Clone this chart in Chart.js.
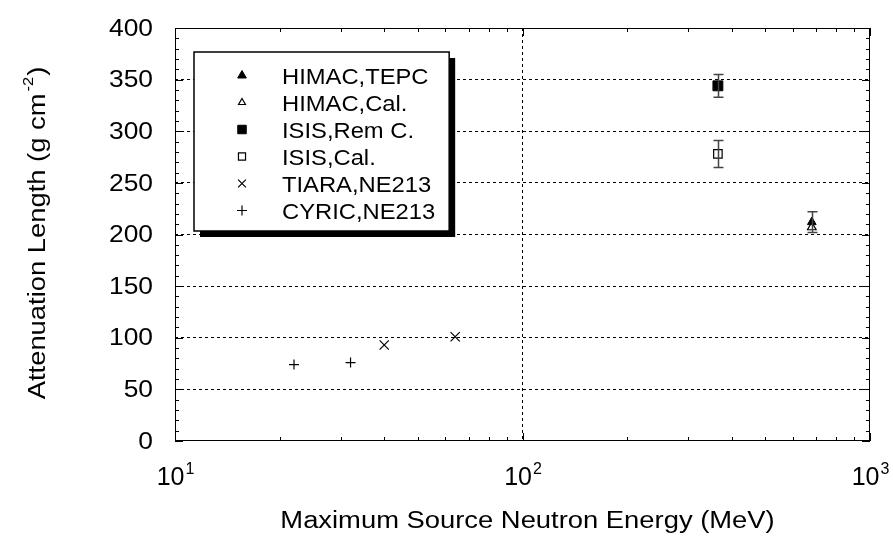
<!DOCTYPE html>
<html>
<head>
<meta charset="utf-8">
<script src="https://cdn.jsdelivr.net/npm/chart.js@4.4.1/dist/chart.umd.min.js"></script>
<style>
  html, body { margin: 0; padding: 0; background: #fff; }
  #wrap { width: 893px; height: 538px; }
</style>
</head>
<body>
<div id="wrap"><canvas id="c" width="893" height="538"></canvas></div>
<script>
// --- DATA ---
const seriesLabels = ['HIMAC,TEPC', 'HIMAC,Cal.', 'ISIS,Rem C.', 'ISIS,Cal.', 'TIARA,NE213', 'CYRIC,NE213'];

const himacTepcE = [680];
const himacTepcL = [212];
const himacTepcErr = [10];

const himacCalE = [680];
const himacCalL = [207];

const isisRemE = [365];
const isisRemL = [344];
const isisRemErr = [11];

const isisCalE = [365];
const isisCalL = [278];
const isisCalErr = [13];

const tiaraE = [40, 64];
const tiaraL = [93, 101];

const cyricE = [22, 32];
const cyricL = [74, 76];

const yTicks = [0, 50, 100, 150, 200, 250, 300, 350, 400];
const xDecades = [10, 100, 1000];

const FONT = 'Arial, "Liberation Sans", sans-serif';

function pts(xs, ys) {
    return xs.map((x, i) => ({ x: x, y: ys[i] }));
}

// text with a bit of horizontal stretch, the source font runs wide
function stretchedWidth(ctx, text, size, sx) {
    ctx.font = size + 'px ' + FONT;
    return ctx.measureText(text).width * sx;
}
function drawText(ctx, text, x, y, size, sx, align, baseline) {
    ctx.save();
    ctx.font = size + 'px ' + FONT;
    ctx.textBaseline = baseline || 'alphabetic';
    const w = ctx.measureText(text).width * sx;
    let x0 = x;
    if (align === 'center') x0 = x - w / 2;
    else if (align === 'right') x0 = x - w;
    ctx.translate(x0, y);
    ctx.scale(sx, 1);
    ctx.textAlign = 'left';
    ctx.fillText(text, 0, 0);
    ctx.restore();
    return w;
}

// --- PLUGINS ---
const frameAndTicks = {
    id: 'frameAndTicks',
    afterDraw(chart) {
        const ctx = chart.ctx;
        const a = chart.chartArea;
        const xs = chart.scales.x, ys = chart.scales.y;
        ctx.save();
        ctx.strokeStyle = '#000';
        ctx.lineWidth = 1;
        ctx.setLineDash([]);
        ctx.strokeRect(a.left + 0.5, a.top + 0.5, a.right - a.left - 1, a.bottom - a.top - 1);

        ctx.beginPath();
        // y ticks every 10, longer at 50
        for (let v = 0; v <= 400; v += 10) {
            const y = Math.round(ys.getPixelForValue(v)) + 0.5;
            const len = v % 50 === 0 ? 8 : 4;
            ctx.moveTo(a.left, y); ctx.lineTo(a.left + len, y);
            ctx.moveTo(a.right, y); ctx.lineTo(a.right - len, y);
        }
        // x ticks, log minors
        for (let d = 10; d < 1000; d *= 10) {
            for (let m = 1; m <= 10; m++) {
                const x = Math.round(xs.getPixelForValue(d * m)) + 0.5;
                const len = (m === 1 || m === 10) ? 8 : 4;
                ctx.moveTo(x, a.bottom); ctx.lineTo(x, a.bottom - len);
                ctx.moveTo(x, a.top); ctx.lineTo(x, a.top + len);
            }
        }
        ctx.stroke();

        ctx.fillStyle = '#000';

        // y tick labels
        yTicks.forEach(v => {
            drawText(ctx, String(v), 153, ys.getPixelForValue(v) + 1, 24, 1.1, 'right', 'middle');
        });

        // x tick labels with superscripts
        xDecades.forEach(v => {
            const x = xs.getPixelForValue(v);
            const exp = String(Math.round(Math.log10(v)));
            const w1 = stretchedWidth(ctx, '10', 25, 1.0);
            const w2 = stretchedWidth(ctx, exp, 16, 1.0);
            const x0 = x - (w1 + w2) / 2;
            drawText(ctx, '10', x0, 485, 25, 1.0, 'left');
            drawText(ctx, exp, x0 + w1 + 1, 474, 16, 1.0, 'left');
        });

        // x title
        drawText(ctx, 'Maximum Source Neutron Energy (MeV)', (a.left + a.right) / 2 + 5, 528, 23, 1.19, 'center');

        // y title, rotated, with superscript
        ctx.save();
        ctx.translate(45, (a.top + a.bottom) / 2);
        ctx.rotate(-Math.PI / 2);
        const main = 'Attenuation Length (g cm';
        const sup = '-2';
        const tail = ')';
        const wm = stretchedWidth(ctx, main, 23, 1.19);
        const ws = stretchedWidth(ctx, sup, 15, 1.1);
        const wt = stretchedWidth(ctx, tail, 23, 1.19);
        const sx = -(wm + ws + wt) / 2;
        drawText(ctx, main, sx, 0, 23, 1.19, 'left');
        drawText(ctx, sup, sx + wm + 2, -12, 15, 1.1, 'left');
        drawText(ctx, tail, sx + wm + ws + 3, 0, 23, 1.19, 'left');
        ctx.restore();
        ctx.restore();
    }
};

const errorBars = {
    id: 'errorBars',
    afterDatasetsDraw(chart) {
        const ctx = chart.ctx;
        const xs = chart.scales.x, ys = chart.scales.y;
        ctx.save();
        ctx.strokeStyle = '#444';
        ctx.lineWidth = 1.5;
        chart.data.datasets.forEach(ds => {
            if (!ds.err) return;
            ds.data.forEach((p, i) => {
                const x = Math.round(xs.getPixelForValue(p.x)) + 0.5;
                const yt = ys.getPixelForValue(p.y + ds.err[i]);
                const yb = ys.getPixelForValue(p.y - ds.err[i]);
                ctx.beginPath();
                ctx.moveTo(x, yt); ctx.lineTo(x, yb);
                ctx.moveTo(x - 5, yt); ctx.lineTo(x + 5, yt);
                ctx.moveTo(x - 5, yb); ctx.lineTo(x + 5, yb);
                ctx.stroke();
            });
        });
        ctx.restore();
    }
};

const boxLegend = {
    id: 'boxLegend',
    afterDraw(chart) {
        const ctx = chart.ctx;
        const size = 22, sx = 1.08, textX = 282;
        const maxW = Math.max(...chart.data.datasets.map(ds => stretchedWidth(ctx, ds.label, size, sx)));
        const bx = 194, by = 52, bh = 179;
        const bw = textX + maxW + 14 - bx;
        ctx.save();
        // shadow
        ctx.fillStyle = '#000';
        ctx.fillRect(bx + 6, by + 6, bw, bh);
        ctx.fillStyle = '#fff';
        ctx.fillRect(bx, by, bw, bh);
        ctx.strokeStyle = '#000';
        ctx.lineWidth = 1.5;
        ctx.strokeRect(bx, by, bw, bh);

        chart.data.datasets.forEach((ds, i) => {
            const y = 75.5 + i * 27;
            ctx.fillStyle = ds.backgroundColor;
            ctx.strokeStyle = ds.borderColor;
            ctx.lineWidth = ds.borderWidth;
            Chart.helpers.drawPoint(ctx, {
                pointStyle: ds.pointStyle,
                radius: ds.legendRadius,
                borderWidth: ds.borderWidth,
                rotation: 0
            }, 242, y);
            ctx.fillStyle = '#000';
            drawText(ctx, ds.label, textX, y + 8, size, sx, 'left');
        });
        ctx.restore();
    }
};

// --- CHART ---
const ctx = document.getElementById('c').getContext('2d');

new Chart(ctx, {
    type: 'scatter',
    data: {
        datasets: [
            { label: seriesLabels[0], data: pts(himacTepcE, himacTepcL), err: himacTepcErr,
              pointStyle: 'triangle', pointRadius: 5, legendRadius: 5,
              backgroundColor: '#000', borderColor: '#000', borderWidth: 1 },
            { label: seriesLabels[1], data: pts(himacCalE, himacCalL),
              pointStyle: 'triangle', pointRadius: 5, legendRadius: 4,
              backgroundColor: '#fff', borderColor: '#000', borderWidth: 1.2 },
            { label: seriesLabels[2], data: pts(isisRemE, isisRemL), err: isisRemErr,
              pointStyle: 'rect', pointRadius: 7, legendRadius: 6,
              backgroundColor: '#000', borderColor: '#000', borderWidth: 1 },
            { label: seriesLabels[3], data: pts(isisCalE, isisCalL), err: isisCalErr,
              pointStyle: 'rect', pointRadius: 6, legendRadius: 5,
              backgroundColor: '#fff', borderColor: '#000', borderWidth: 1.2 },
            { label: seriesLabels[4], data: pts(tiaraE, tiaraL),
              pointStyle: 'crossRot', pointRadius: 6.5, legendRadius: 5.5,
              backgroundColor: '#000', borderColor: '#000', borderWidth: 1.2 },
            { label: seriesLabels[5], data: pts(cyricE, cyricL),
              pointStyle: 'cross', pointRadius: 5, legendRadius: 5,
              backgroundColor: '#000', borderColor: '#000', borderWidth: 1.2 }
        ]
    },
    options: {
        responsive: false,
        animation: false,
        layout: { padding: { top: 28, right: 23, left: 0, bottom: 0 } },
        plugins: {
            legend: { display: false },
            tooltip: { enabled: false }
        },
        scales: {
            x: {
                type: 'logarithmic',
                min: 10,
                max: 1000,
                grid: {
                    drawTicks: false,
                    color: c => (c.tick && c.tick.value === 100) ? '#000' : 'rgba(0,0,0,0)',
                    lineWidth: 1
                },
                border: { display: false, dash: [3, 3] },
                ticks: { display: false },
                afterFit(scale) { scale.height = 97; }
            },
            y: {
                min: 0,
                max: 400,
                border: { display: false, dash: [3, 3] },
                grid: {
                    drawTicks: false,
                    color: c => (c.tick && c.tick.value > 0 && c.tick.value < 400) ? '#000' : 'rgba(0,0,0,0)',
                    lineWidth: 1
                },
                afterBuildTicks(scale) { scale.ticks = yTicks.map(v => ({ value: v })); },
                ticks: { display: false },
                afterFit(scale) { scale.width = 175; }
            }
        }
    },
    plugins: [errorBars, frameAndTicks, boxLegend]
});
</script>
</body>
</html>
